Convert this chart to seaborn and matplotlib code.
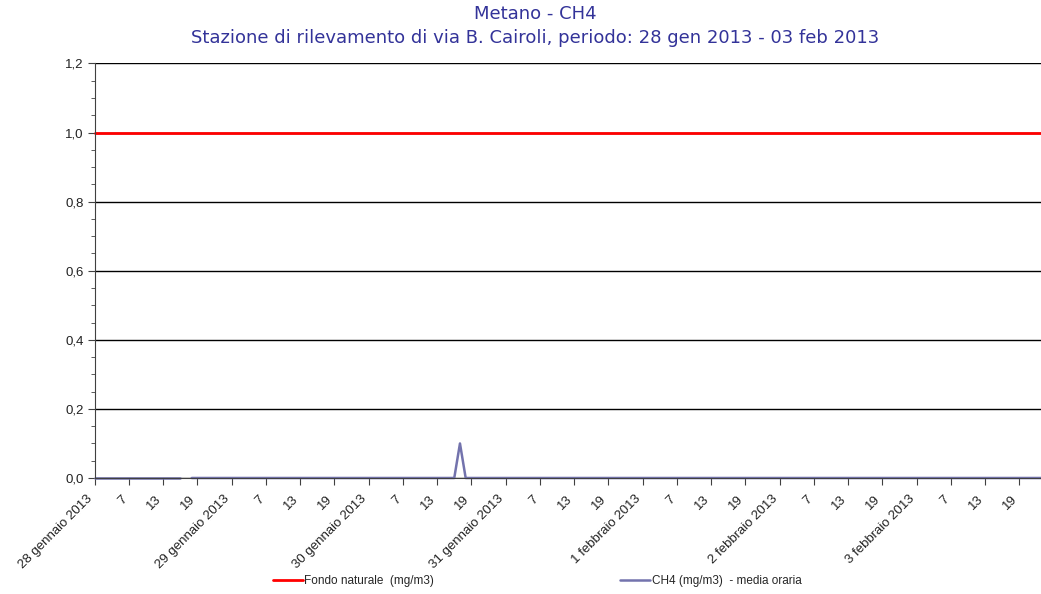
import matplotlib
matplotlib.use("Agg")
import matplotlib.pyplot as plt
import matplotlib.transforms as mtransforms
from matplotlib.lines import Line2D
from matplotlib.ticker import MultipleLocator
import numpy as np
import pandas as pd
import seaborn as sns

NA = np.nan

# etichette asse x: un giorno ogni 24 ore, poi le ore 7, 13, 19
giorni = ["28 gennaio 2013", "29 gennaio 2013", "30 gennaio 2013", "31 gennaio 2013",
          "1 febbraio 2013", "2 febbraio 2013", "3 febbraio 2013"]
ore_etichette = ["7", "13", "19"]

# CH4 (mg/m3) - media oraria, ore 1..24 di ogni giorno
ch4_28_gen = [0.0, 0.0, 0.0, 0.0, 0.0, 0.0, 0.0, 0.0, 0.0, 0.0, 0.0, 0.0,
              0.0, 0.0, 0.0, 0.0, NA, 0.0, 0.0, 0.0, 0.0, 0.0, 0.0, 0.0]
ch4_29_gen = [0.0, 0.0, 0.0, 0.0, 0.0, 0.0, 0.0, 0.0, 0.0, 0.0, 0.0, 0.0,
              0.0, 0.0, 0.0, 0.0, 0.0, 0.0, 0.0, 0.0, 0.0, 0.0, 0.0, 0.0]
ch4_30_gen = [0.0, 0.0, 0.0, 0.0, 0.0, 0.0, 0.0, 0.0, 0.0, 0.0, 0.0, 0.0,
              0.0, 0.0, 0.0, 0.0, 0.1, 0.0, 0.0, 0.0, 0.0, 0.0, 0.0, 0.0]
ch4_31_gen = [0.0, 0.0, 0.0, 0.0, 0.0, 0.0, 0.0, 0.0, 0.0, 0.0, 0.0, 0.0,
              0.0, 0.0, 0.0, 0.0, 0.0, 0.0, 0.0, 0.0, 0.0, 0.0, 0.0, 0.0]
ch4_01_feb = [0.0, 0.0, 0.0, 0.0, 0.0, 0.0, 0.0, 0.0, 0.0, 0.0, 0.0, 0.0,
              0.0, 0.0, 0.0, 0.0, 0.0, 0.0, 0.0, 0.0, 0.0, 0.0, 0.0, 0.0]
ch4_02_feb = [0.0, 0.0, 0.0, 0.0, 0.0, 0.0, 0.0, 0.0, 0.0, 0.0, 0.0, 0.0,
              0.0, 0.0, 0.0, 0.0, 0.0, 0.0, 0.0, 0.0, 0.0, 0.0, 0.0, 0.0]
ch4_03_feb = [0.0, 0.0, 0.0, 0.0, 0.0, 0.0, 0.0, 0.0, 0.0, 0.0, 0.0, 0.0,
              0.0, 0.0, 0.0, 0.0, 0.0, 0.0, 0.0, 0.0, 0.0, 0.0, 0.0, 0.0]

fondo_naturale = 1.0  # mg/m3

sns.set_style("white")
plt.rcParams["font.family"] = ["Liberation Sans", "DejaVu Sans"]

ch4 = ch4_28_gen + ch4_29_gen + ch4_30_gen + ch4_31_gen + ch4_01_feb + ch4_02_feb + ch4_03_feb
ore = np.arange(len(ch4))

df = pd.DataFrame({"ora": ore, "ch4": ch4})
df["tratto"] = df["ch4"].isna().cumsum()
df = df.dropna()
df_fondo = pd.DataFrame({"ora": ore, "fondo": fondo_naturale})

fig = plt.figure(figsize=(10.41, 5.94), dpi=100)
ax = fig.add_axes([0.091, 0.1953, 0.9155, 0.6978])

sns.lineplot(data=df_fondo, x="ora", y="fondo", color="#FF0000", lw=2, ax=ax)
sns.lineplot(data=df, x="ora", y="ch4", units="tratto", estimator=None,
             color="#7373AD", lw=1.8, ax=ax)
for ln in ax.lines:
  ln.set_clip_on(False)

ax.set_xlim(0, len(ch4) - 1)
ax.set_ylim(0, 1.2)

etichette_x = []
for g in giorni:
  etichette_x += [g] + ore_etichette
pos_x = list(range(0, len(ch4), 6))
ax.set_xticks(pos_x)
ax.set_xticklabels([])
# le etichette dell'originale stanno un po' a sinistra della tacca
spost = ax.get_xaxis_transform() + mtransforms.ScaledTranslation(-8 / 100, -15 / 100, fig.dpi_scale_trans)
for p, lab in zip(pos_x, etichette_x):
  ax.text(p, 0, lab, transform=spost, rotation=45, ha="right", va="top",
          rotation_mode="anchor", fontsize=9.5, color="#222222", clip_on=False)

yt = np.arange(0, 1.21, 0.2)
ax.set_yticks(yt)
ax.set_yticklabels([f"{v:.1f}".replace(".", ",") for v in yt], fontsize=9.5, color="#222222")
ax.yaxis.set_minor_locator(MultipleLocator(0.05))

ax.tick_params(axis="x", which="major", direction="out", length=5, color="#404040", bottom=True)
ax.tick_params(axis="y", which="major", direction="out", length=5, color="#404040", pad=3, left=True)
ax.tick_params(axis="y", which="minor", direction="out", length=3, color="#404040", left=True)

ax.grid(axis="y", color="black", lw=1)
ax.grid(axis="x", visible=False)
ax.set_axisbelow(True)
sns.despine(ax=ax, top=True, right=True)
ax.spines["left"].set_color("#404040")
ax.spines["bottom"].set_color("#404040")
ax.set_xlabel("")
ax.set_ylabel("")

fig.text(535 / 1041, 1 - 14 / 594, "Metano - CH4", ha="center", va="center",
         color="#333399", fontsize=13, family="DejaVu Sans")
fig.text(535 / 1041, 1 - 38 / 594,
         "Stazione di rilevamento di via B. Cairoli, periodo: 28 gen 2013 - 03 feb 2013",
         ha="center", va="center", color="#333399", fontsize=13, family="DejaVu Sans")

handles = [Line2D([], [], color="#FF0000", lw=2), Line2D([], [], color="#7373AD", lw=1.8)]
fig.legend(handles, ["Fondo naturale  (mg/m3)", "CH4 (mg/m3)  - media oraria"],
           loc="center", bbox_to_anchor=(537 / 1041, 1 - 581 / 594), ncol=2,
           frameon=False, fontsize=8.5, handlelength=2.55, handletextpad=0.1,
           columnspacing=15.8, borderpad=0)

fig.savefig("out.png", dpi=100)
plt.close(fig)
